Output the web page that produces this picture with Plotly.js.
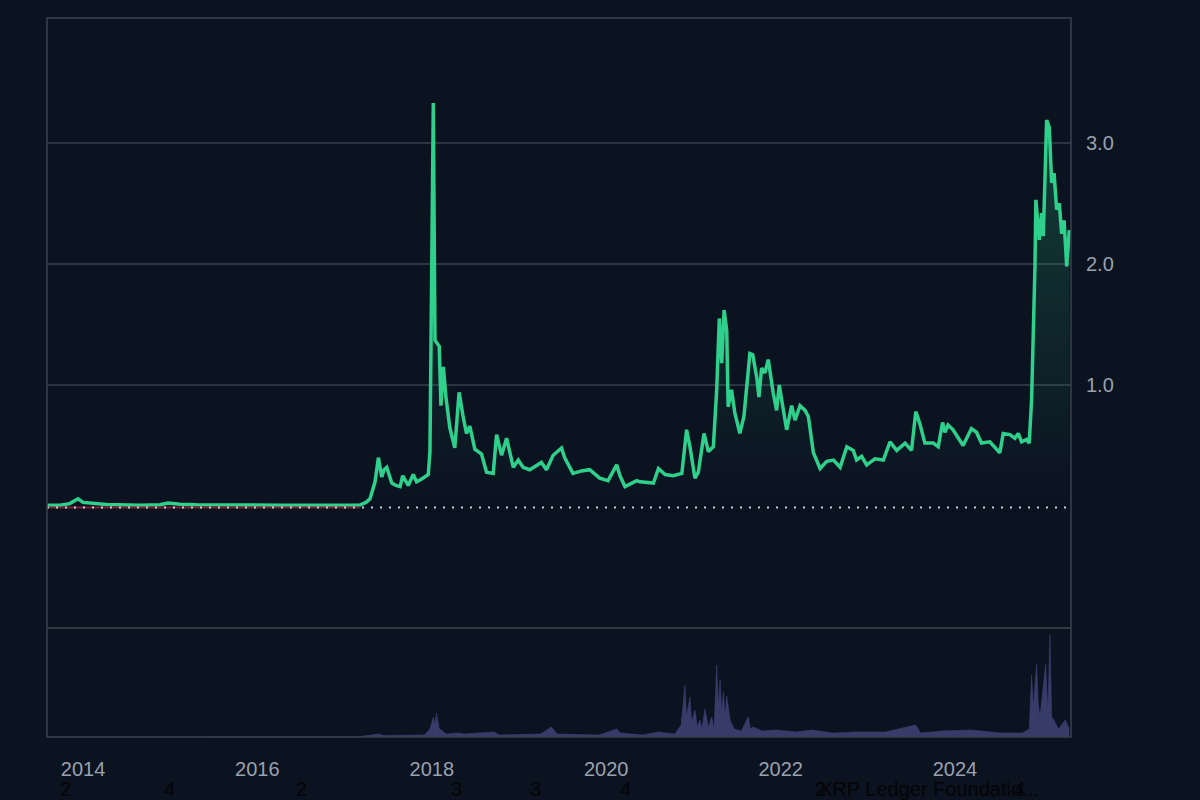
<!DOCTYPE html>
<html>
<head>
<meta charset="utf-8">
<script src="https://cdn.plot.ly/plotly-3.0.1.min.js"></script>
<style>
  html, body { margin: 0; padding: 0; background: #0b1220; }
  #chart { width: 1200px; height: 800px; }
</style>
</head>
<body>
<div id="chart"></div>
<script>
// ---------- DATA ----------
const priceDates = [
  '2013-08-04','2013-09-26','2013-11-06','2013-12-11','2014-01-01','2014-02-20','2014-04-10','2014-08-27',
  '2014-11-19','2014-12-23','2015-02-11','2015-04-21','2015-09-08','2016-04-05','2016-10-31','2017-03-05',
  '2017-03-31','2017-04-17','2017-05-08','2017-05-22','2017-06-05','2017-06-15','2017-06-26','2017-07-17',
  '2017-08-04','2017-08-21','2017-09-01','2017-09-24','2017-10-15','2017-10-29','2017-11-16','2017-12-03',
  '2017-12-17','2017-12-24','2018-01-07','2018-01-14','2018-02-01','2018-02-08','2018-02-18','2018-03-01',
  '2018-03-17','2018-04-07','2018-04-25','2018-05-11','2018-05-26','2018-06-09','2018-06-30','2018-07-28',
  '2018-08-18','2018-09-15','2018-09-29','2018-10-20','2018-11-10','2018-12-08','2018-12-29','2019-01-18',
  '2019-02-15','2019-04-05','2019-04-26','2019-05-24','2019-06-28','2019-07-11','2019-08-15','2019-09-20',
  '2019-10-24','2019-12-05','2020-01-09','2020-02-14','2020-02-28','2020-03-20','2020-05-08','2020-05-22',
  '2020-07-17','2020-08-07','2020-09-04','2020-10-08','2020-11-13','2020-12-03','2020-12-17','2021-01-07',
  '2021-01-21','2021-02-14','2021-03-04','2021-03-25','2021-04-08','2021-04-19','2021-04-29','2021-05-09',
  '2021-05-20','2021-05-26','2021-06-09','2021-06-23','2021-07-14','2021-07-31','2021-08-25','2021-09-06',
  '2021-09-23','2021-10-02','2021-10-13','2021-10-27','2021-11-10','2021-12-01','2021-12-15','2021-12-26',
  '2022-01-12','2022-01-26','2022-02-16','2022-03-02','2022-03-23','2022-04-13','2022-04-27','2022-05-18',
  '2022-06-15','2022-07-13','2022-08-10','2022-09-07','2022-10-05','2022-11-01','2022-11-15','2022-12-06',
  '2022-12-27','2023-01-31','2023-03-07','2023-04-04','2023-05-02','2023-06-06','2023-07-03','2023-07-21',
  '2023-08-07','2023-08-28','2023-10-02','2023-10-23','2023-11-10','2023-11-20','2023-12-03','2023-12-24',
  '2024-02-04','2024-03-10','2024-03-31','2024-04-21','2024-05-26','2024-07-07','2024-07-21','2024-08-18',
  '2024-09-08','2024-09-22','2024-10-06','2024-10-27','2024-11-07','2024-11-17','2024-12-01','2024-12-05',
  '2024-12-19','2024-12-29','2025-01-05','2025-01-19','2025-01-30','2025-02-09','2025-02-19','2025-03-02',
  '2025-03-13','2025-03-23','2025-04-02','2025-04-13','2025-04-24'
];
const priceValues = [
  0.006,0.006,0.02,0.06,0.03,0.022,0.012,0.006,
  0.01,0.025,0.015,0.01,0.007,0.007,0.007,0.008,
  0.03,0.06,0.20,0.40,0.24,0.30,0.32,0.19,
  0.17,0.16,0.25,0.17,0.26,0.20,0.22,0.24,
  0.26,0.45,3.33,1.37,1.32,0.83,1.15,0.90,
  0.65,0.48,0.94,0.75,0.60,0.66,0.47,0.43,
  0.28,0.27,0.59,0.42,0.56,0.32,0.38,0.32,
  0.30,0.36,0.30,0.42,0.48,0.40,0.27,0.29,
  0.30,0.23,0.21,0.34,0.25,0.16,0.21,0.20,
  0.19,0.31,0.26,0.25,0.27,0.63,0.49,0.23,
  0.28,0.60,0.45,0.49,0.96,1.55,1.18,1.62,
  1.45,0.82,0.96,0.77,0.60,0.74,1.26,1.25,
  1.06,0.90,1.14,1.10,1.21,0.93,0.79,1.00,
  0.77,0.63,0.83,0.71,0.83,0.79,0.74,0.44,
  0.31,0.37,0.38,0.32,0.49,0.46,0.38,0.41,
  0.34,0.39,0.38,0.53,0.46,0.52,0.46,0.78,
  0.68,0.52,0.52,0.49,0.69,0.61,0.67,0.63,
  0.50,0.64,0.61,0.52,0.53,0.44,0.60,0.59,
  0.56,0.60,0.53,0.55,0.52,0.88,1.98,2.53,
  2.20,2.42,2.23,3.19,3.13,2.67,2.75,2.45,
  2.50,2.25,2.36,1.98,2.28
];

const volumeDates = [
  '2013-08-04','2017-03-01','2017-05-20','2017-06-15','2017-12-01','2017-12-24','2018-01-07','2018-01-14',
  '2018-01-20','2018-02-01','2018-02-10','2018-03-01','2018-04-25','2018-05-15','2018-09-20','2018-10-10',
  '2019-04-01','2019-05-17','2019-06-10','2019-12-01','2020-02-14','2020-03-01','2020-06-01','2020-08-07',
  '2020-10-15','2020-11-10','2020-11-26','2020-12-03','2020-12-10','2020-12-17','2020-12-24','2021-01-07',
  '2021-01-17','2021-01-28','2021-02-05','2021-02-18','2021-03-04','2021-03-18','2021-03-28','2021-04-08',
  '2021-04-15','2021-04-22','2021-04-29','2021-05-06','2021-05-13','2021-05-20','2021-06-03','2021-06-20',
  '2021-07-20','2021-08-18','2021-08-28','2021-09-08','2021-10-15','2021-12-10','2022-03-10','2022-05-10',
  '2022-08-10','2022-11-10','2023-03-15','2023-07-21','2023-08-10','2023-11-10','2024-03-10','2024-07-10',
  '2024-10-10','2024-11-07','2024-11-17','2024-11-24','2024-12-08','2024-12-15','2024-12-22','2025-01-15',
  '2025-01-24','2025-02-02','2025-02-09','2025-02-16','2025-03-01','2025-03-10','2025-04-07','2025-04-24'
];
const volumeValues = [
  0.0,0.02,0.3,0.15,0.2,0.8,2.0,1.2,
  2.4,0.8,0.7,0.3,0.4,0.3,0.5,0.2,
  0.3,1.0,0.3,0.2,0.8,0.4,0.2,0.5,
  0.3,1.2,5.2,2.0,3.0,4.0,1.5,2.7,
  1.0,1.7,0.8,2.8,1.0,2.0,0.8,7.2,
  3.0,5.7,2.5,4.5,2.0,4.1,1.7,0.8,
  0.6,2.0,0.8,1.0,0.6,0.7,0.5,0.7,
  0.4,0.5,0.5,1.2,0.4,0.6,0.7,0.4,
  0.4,0.8,6.2,3.0,7.3,3.3,2.0,7.3,
  2.5,10.2,2.0,1.8,1.2,0.8,1.7,0.8
];

const yearTicks = ['2014-01-01','2016-01-01','2018-01-01','2020-01-01','2022-01-01','2024-01-01'];
const priceTicks = [1, 2, 3];

const eventDates  = ['2013-10-20','2014-12-31','2016-07-05','2018-04-15','2019-03-13','2020-03-20','2022-06-15','2024-09-29'];
const eventLabels = ['2','4','2','3','3','4','2','4'];
const noteDate  = '2022-06-01';
const noteLabel = 'XRP Ledger Foundatio...';

// ---------- CHART ----------
const GREEN = '#2fcf8c';
const baseValue = 0;
let flatEnd = priceDates[0];
for (let i = 0; i < priceDates.length; i++) {
  if (priceDates[i] > '2015-01-01' && priceValues[i] > 0.02) { flatEnd = priceDates[i - 1]; break; }
}

const FONT = 'Liberation Sans, Arial, sans-serif';

const traces = [
  {
    x: priceDates, y: priceValues, type: 'scatter', mode: 'lines',
    line: { color: GREEN, width: 3.5 },
    fill: 'tozeroy',
    fillgradient: {
      type: 'vertical',
      colorscale: [[0, 'rgba(47,207,140,0.0)'], [1, 'rgba(47,207,140,0.24)']]
    },
    xaxis: 'x', yaxis: 'y', hoverinfo: 'x+y'
  },
  {
    x: volumeDates, y: volumeValues, type: 'scatter', mode: 'lines',
    line: { color: '#3f4477', width: 0.5 },
    fill: 'tozeroy', fillcolor: 'rgba(62,67,118,0.85)',
    xaxis: 'x', yaxis: 'y2', hoverinfo: 'x+y'
  }
];

const annotations = eventLabels.map((t, i) => ({
  x: eventDates[i], xref: 'x', y: -0.072, yref: 'paper',
  text: t, showarrow: false, xanchor: 'center', yanchor: 'middle',
  font: { family: FONT, size: 20, color: '#050505' }
}));
annotations.push({
  x: noteDate, xref: 'x', y: -0.072, yref: 'paper',
  text: noteLabel, showarrow: false, xanchor: 'left', yanchor: 'middle',
  font: { family: FONT, size: 20, color: '#050505' }
});

const volDomainTop = 0.1516;

const layout = {
  width: 1200, height: 800,
  margin: { l: 47, r: 129, t: 18, b: 63 },
  paper_bgcolor: '#0b1220',
  plot_bgcolor: '#0b1220',
  showlegend: false,
  font: { family: FONT, color: '#9aa1ad', size: 20 },
  xaxis: {
    type: 'date',
    range: ['2013-08-03', '2025-05-01'],
    tickvals: yearTicks, tickformat: '%Y',
    showgrid: false, zeroline: false, showline: false,
    ticks: 'outside', ticklen: 14, tickcolor: 'rgba(0,0,0,0)',
    tickfont: { family: FONT, size: 20, color: '#9aa1ad' },
    anchor: 'y2'
  },
  yaxis: {
    domain: [volDomainTop, 1],
    range: [-1.008, 4.033],
    side: 'right',
    tickvals: priceTicks, tickformat: '.1f',
    gridcolor: '#2c3441', gridwidth: 1.5,
    zeroline: false, showline: false,
    ticks: 'outside', ticklen: 10, tickcolor: 'rgba(0,0,0,0)',
    tickfont: { family: FONT, size: 20, color: '#9aa1ad' }
  },
  yaxis2: {
    domain: [0, volDomainTop],
    range: [0, 10.9],
    showticklabels: false, showgrid: false, zeroline: false
  },
  shapes: [
    { type: 'line', xref: 'x', yref: 'y', x0: priceDates[0], x1: flatEnd, y0: baseValue - 0.012, y1: baseValue - 0.012,
      line: { color: '#7a2030', width: 2 } },
    { type: 'line', xref: 'paper', yref: 'y', x0: 0, x1: 1, y0: baseValue - 0.012, y1: baseValue - 0.012,
      line: { color: '#c9ced6', width: 2, dash: '2px,7px' } },
    { type: 'line', xref: 'paper', yref: 'paper', x0: 0, x1: 1, y0: volDomainTop, y1: volDomainTop,
      line: { color: '#333a46', width: 2 } },
    { type: 'rect', xref: 'paper', yref: 'paper', x0: 0, x1: 1, y0: 0, y1: 1,
      line: { color: '#3a414d', width: 1.5 } }
  ],
  annotations: annotations
};

Plotly.newPlot('chart', traces, layout, { displayModeBar: false, staticPlot: true });
</script>
</body>
</html>
